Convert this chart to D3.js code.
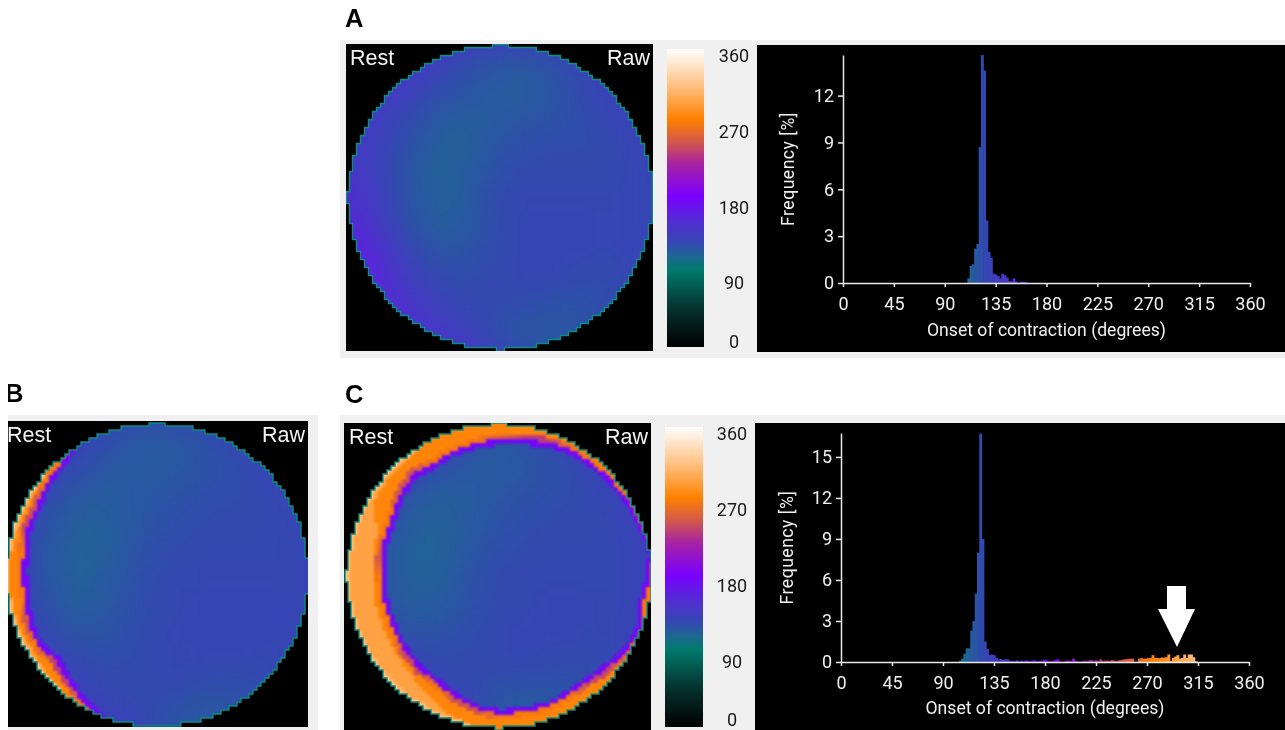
<!DOCTYPE html>
<html><head><meta charset="utf-8">
<script src="https://cdnjs.cloudflare.com/ajax/libs/d3/7.8.5/d3.min.js"></script>
<style>html,body{margin:0;padding:0;background:#fff;overflow:hidden}svg{display:block;filter:blur(0.55px)}text{font-family:Roboto,sans-serif}</style>
</head><body><svg id="c" width="1285" height="730"></svg>
<script>
// ---- colour bar
const colorStops=[0,45,93,110,125,150,182,222,246,275,315,360];
const colorValues=["#000000","#06302c","#007a6c","#1f6694","#3348b0","#4f30d0","#7a00ff","#a824a0","#d05550","#ff8000","#ffc080","#ffffff"];
const colorTicks=[0,90,180,270,360];
// ---- histograms (bin width 2 degrees)
const binWidth=2;
const xTicks=[0,45,90,135,180,225,270,315,360];
const histAStart=110;
const histA=[.3,1.1,1.2,2.2,2.5,8.7,14.6,13.6,4.0,2.0,1.6,.6,.55,.45,.3,.6,.5,.35,.12,.12,.3,.1,0,.08,.08,.06];
const yTicksA=[0,3,6,9,12];
const histCStart=104;
const histC=[.1,.25,.6,1.0,1.0,2.3,3.0,5.0,8.0,16.7,9.0,1.5,.95,.5,.55,.5,.3,.18,.22,.15,.2,.18,.1,
.08,.06,.12,.05,.1,.04,.12,.08,.04,.1,.12,.06,.05,.08,.16,.12,.06,.04,.08,.14,.2,.05,0,.04,.1,
.1,.06,.25,.05,.04,.02,.04,.1,.06,.12,.14,.05,.12,.08,.2,.06,.1,.1,.08,.14,.1,.06,.12,.14,.18,
.2,.22,.24,.24,.02,.02,.25,.28,.25,.25,.28,.3,.5,.3,.3,.28,.32,.32,.35,.55,.08,.3,.4,.5,.25,.3,.55,.3,.55,.55,.35,.05];
const yTicksC=[0,3,6,9,12,15];
// ---- polar maps: onset field, rows top to bottom
const fieldA=[
[148,148,148,148,142,138,142,138,136,136,136,136,136],
[148,148,148,142,130,122,118,118,122,130,136,136,136],
[148,148,142,130,122,118,115,115,118,124,130,136,136],
[148,142,130,122,115,115,116,118,120,123,127,133,136],
[146,138,127,118,112,114,119,122,123,123,124,128,135],
[148,138,125,116,112,116,122,124,124,124,124,127,132],
[152,142,127,116,112,118,124,126,126,126,126,127,130],
[160,148,130,118,114,118,124,127,127,127,126,127,130],
[168,158,140,124,118,120,124,127,127,127,126,128,134],
[168,160,146,132,124,123,126,127,127,124,123,128,140],
[165,160,152,140,130,125,124,122,120,119,123,135,150],
[165,160,156,148,140,130,121,117,117,120,128,140,150],
[165,165,160,156,152,146,135,125,122,130,140,150,150]];
const fieldB=[
[140,140,140,140,134,128,126,128,130,132,134,134,134],
[140,140,140,134,124,118,116,118,122,127,132,134,134],
[140,140,134,124,118,116,116,118,120,123,127,132,134],
[140,134,124,118,115,116,119,120,122,123,125,128,134],
[140,128,120,114,113,116,120,122,124,124,124,126,132],
[140,128,118,112,113,118,122,124,125,125,125,126,130],
[140,128,118,112,115,119,124,125,126,126,126,126,130],
[140,130,120,114,116,121,124,126,127,127,127,126,130],
[142,134,124,118,119,122,125,127,127,127,127,128,132],
[145,140,130,124,122,123,125,126,127,127,125,128,136],
[150,148,140,130,125,124,125,125,123,122,124,132,142],
[150,150,148,140,130,126,123,119,117,120,127,136,145],
[150,150,150,150,145,136,122,116,115,122,132,145,145]];
const fieldC=[
[145,145,145,145,145,138,130,138,140,145,145,145,145],
[145,145,145,145,138,122,116,120,126,134,145,145,145],
[145,145,145,132,120,116,116,118,120,125,132,145,145],
[145,145,128,116,114,116,118,120,122,124,127,136,145],
[145,136,120,113,113,116,120,122,124,124,125,130,145],
[145,132,116,112,113,118,122,124,125,125,125,128,140],
[145,132,116,112,114,120,124,125,125,125,125,128,140],
[145,132,118,114,116,121,124,125,127,127,125,128,140],
[145,136,122,118,120,123,125,127,127,127,125,130,145],
[145,145,134,125,123,124,125,127,125,124,124,132,148],
[145,145,145,134,126,124,122,121,120,121,127,140,150],
[145,145,145,145,138,127,116,114,116,122,136,150,150],
[145,145,145,145,145,145,130,122,130,145,145,145,145]];
// ---- late-onset wall band, sampled every 10 degrees clockwise from the top (fraction of radius)
const bandAngles=d3.range(0,360,10);
const bandInnerC=[.89,.90,.93,.95,.96,.965,.98,.99,1.02,.99,.96,.99,.97,.93,.90,.90,.91,.90,.90,.88,.84,.81,.80,.79,.78,.77,.77,.77,.78,.79,.80,.84,.87,.85,.87,.88];
const bandLightC=[1.1,1.1,1.1,1.1,1.1,1.1,1.1,1.1,1.1,1.1,1.1,1.1,1.1,1.1,1.1,1.1,1.1,1.1,1.1,1.0,.96,.90,.87,.85,.84,.83,.83,.83,.83,.84,.94,.96,.97,1.0,1.1,1.1];
const bandEdgeC=[255,235,235,270,270,270,270,270,270,270,270,270,270,240,240,270,270,270,270,245,245,270,240,240,270,270,270,270,245,270,270,245,245,270,270,270];
const bandInnerB=[1.15,1.15,1.15,1.15,1.15,1.15,1.15,1.15,1.15,1.15,1.15,1.15,1.15,1.15,1.15,1.15,1.15,1.15,1.15,1.15,1.03,.97,.91,.87,.91,.90,.885,.885,.89,.91,.91,.95,.97,1.03,1.15,1.15];
const bandLightB=[1.1,1.1,1.1,1.1,1.1,1.1,1.1,1.1,1.1,1.1,1.1,1.1,1.1,1.1,1.1,1.1,1.1,1.1,1.1,1.1,1.1,1.1,.98,.97,.96,.97,.97,.98,.97,.96,.97,.98,1.1,1.1,1.1,1.1];
const bandEdgeB=[270,270,270,270,270,270,270,270,270,270,270,270,270,270,270,270,270,270,270,270,270,270,235,235,270,245,270,270,270,240,245,270,270,270,270,270];
// ---- text
const labelMapLeft="Rest", labelMapRight="Raw";
const labelX="Onset of contraction (degrees)", labelY="Frequency [%]";

const color=d3.scaleLinear().domain(colorStops).range(colorValues).clamp(true);
const svg=d3.select("#c");
const defs=svg.append("defs");
const fb=defs.append("filter").attr("id","soft").attr("x",-.2).attr("y",-.2).attr("width",1.4).attr("height",1.4).attr("color-interpolation-filters","sRGB");
fb.append("feGaussianBlur").attr("stdDeviation",13);
const fb2=defs.append("filter").attr("id","cellblur").attr("color-interpolation-filters","sRGB");
fb2.append("feGaussianBlur").attr("stdDeviation",1);
const grad=defs.append("linearGradient").attr("id","cbar").attr("x1",0).attr("y1",1).attr("x2",0).attr("y2",0);
colorStops.forEach((s,i)=>grad.append("stop").attr("offset",s/360).attr("stop-color",colorValues[i]));

function rect(g,x,y,w,h,f){return g.append("rect").attr("x",x).attr("y",y).attr("width",w).attr("height",h).attr("fill",f);}

function steppedOutline(r){
  const s=4, pts=[], hw=y=>Math.max(s,Math.round(Math.sqrt(Math.max(0,(r-1)*(r-1)-y*y))/s)*s);
  const rows=d3.range(-r+3,r-1,s);
  pts.push([-8,-r],[8,-r],[8,-r+3]);
  rows.forEach(y=>{const w=Math.min(hw(y+s/2),r);pts.push([w,y],[w,y+s]);});
  rows.slice().reverse().forEach(y=>{const w=Math.min(hw(y+s/2),r-2);
    if(Math.abs(y+s/2)<8){pts.push([-r-1,y+s],[-r-1,y]);}else pts.push([-w,y+s],[-w,y]);});
  pts.push([-8,-r+3]);
  return d3.line()(pts)+"Z";
}

function polarMap(id,box,cx,cy,r,field,band,lab){
  const g=svg.append("g");
  defs.append("clipPath").attr("id","box"+id).append("rect").attr("x",box[0]).attr("y",box[1]).attr("width",box[2]).attr("height",box[3]);
  const root=g.append("g").attr("clip-path",`url(#box${id})`);
  rect(root,box[0],box[1],box[2],box[3],"#000");
  const outline=steppedOutline(r);
  defs.append("clipPath").attr("id","disc"+id).append("path").attr("d",outline).attr("transform",`translate(${cx},${cy})`);
  const disc=root.append("g").attr("clip-path",`url(#disc${id})`);
  const cell=27;
  const col=d3.scaleLinear().domain([0,12]).range([cx-6.5*cell,cx+5.5*cell]);
  const row=d3.scaleLinear().domain([0,12]).range([cy-6.5*cell,cy+5.5*cell]);
  const f=disc.append("g").attr("filter","url(#soft)");
  field.forEach((vals,j)=>f.selectAll(null).data(vals).join("rect")
    .attr("x",(d,i)=>col(i)).attr("y",row(j)).attr("width",cell+.5).attr("height",cell+.5)
    .attr("fill",d=>color(d)));
  if(band){
    const dom=bandAngles.concat([360]);
    const inner=d3.scaleLinear().domain(dom).range(band.inner.concat(band.inner[0]));
    const light=d3.scaleLinear().domain(dom).range(band.light.concat(band.light[0]));
    const edge=d3.scaleLinear().domain(dom).range(band.edge.concat(band.edge[0]));
    const s=4, cells=[];
    d3.range(-r-4,r+4,s).forEach(dy=>d3.range(-r-4,r+4,s).forEach(dx=>{
      const px=dx+s/2, py=dy+s/2, fr=Math.hypot(px,py)/r;
      let a=Math.atan2(px,-py)*180/Math.PI; if(a<0)a+=360;
      const I=inner(a), L=light(a);
      let v=null;
      if(fr>=L) v=fr>=.975?312:296;
      else if(fr>=I+.035) v=278;
      else if(fr>=I) v=edge(a);
      else if(fr>=I-.03) v=178;
      if(v!==null) cells.push({dx,dy,v});
    }));
    disc.append("g").attr("filter","url(#cellblur)").selectAll("rect").data(cells).join("rect")
      .attr("x",d=>cx+d.dx).attr("y",d=>cy+d.dy).attr("width",s+.4).attr("height",s+.4)
      .attr("fill",d=>color(d.v));
  }
  root.append("path").attr("d",outline).attr("transform",`translate(${cx},${cy})`)
    .attr("fill","none").attr("stroke","#0b8c84").attr("stroke-width",1.4);
  root.append("text").text(labelMapLeft).attr("x",lab[0]).attr("y",lab[2]).attr("fill","#f4f4f4")
    .style("font-family","'Liberation Sans',Arial,sans-serif").style("font-size","21.5px");
  root.append("text").text(labelMapRight).attr("x",lab[1]).attr("y",lab[2]).attr("text-anchor","end").attr("fill","#f4f4f4")
    .style("font-family","'Liberation Sans',Arial,sans-serif").style("font-size","21.5px");
}

function colorBar(x,y0,y1,w,labelX0,lab){
  const g=svg.append("g");
  rect(g,x,y0,w,y1-y0,"url(#cbar)");
  const ly=d3.scaleLinear().domain([0,90,360]).range(lab);
  g.selectAll("text").data(colorTicks).join("text").text(d=>d)
    .attr("x",labelX0).attr("y",d=>ly(d)).attr("dy",".36em").attr("text-anchor","middle").attr("fill","#1a1a1a").style("font-size","18px");
}

function hist(box,x0,x1,y0,yTop,yMax,ticks,start,vals,xLabY,yLabX){
  rect(svg,box[0],box[1],box[2],box[3],"#000");
  const x=d3.scaleLinear().domain([0,360]).range([x0,x1]);
  const y=d3.scaleLinear().domain([0,yMax]).range([y0,yTop]);
  const g=svg.append("g");
  g.selectAll("rect").data(vals).join("rect")
    .attr("x",(d,i)=>x(start+i*binWidth)).attr("width",x(binWidth)-x(0)+.6)
    .attr("y",d=>y(d)).attr("height",d=>y0-y(d))
    .attr("fill",(d,i)=>color(start+i*binWidth+1));
  const ax=svg.append("g").attr("transform",`translate(0,${y0})`).call(d3.axisBottom(x).tickValues(xTicks).tickSize(4).tickPadding(10).tickSizeOuter(0));
  const ay=svg.append("g").attr("transform",`translate(${x0},0)`).call(d3.axisLeft(y).tickValues(ticks).tickSize(5).tickPadding(4).tickSizeOuter(0));
  [ax,ay].forEach(a=>{a.selectAll("line,path").attr("stroke","#e8e8e8").attr("stroke-width",1.5);
    a.selectAll("text").attr("fill","#f0f0f0").style("font-size","18px").style("font-family","Roboto,sans-serif");});
  svg.append("text").text(labelX).attr("x",(x0+x1)/2).attr("y",xLabY).attr("text-anchor","middle").attr("fill","#f0f0f0").style("font-size","17.6px");
  svg.append("text").text(labelY).attr("transform",`translate(${yLabX},${(y0+yTop)/2})rotate(-90)`).attr("text-anchor","middle").attr("fill","#f0f0f0").style("font-size","17.6px").style("letter-spacing",".5px");
}
function letter(t,x,y,p){(p||svg).append("text").text(t).attr("x",x).attr("y",y).attr("fill","#000").style("font-family","'Liberation Sans',Arial,sans-serif").style("font-weight","700").style("font-size","25.5px");}

// white page + panel backgrounds
rect(svg,0,0,1285,730,"#fff");
rect(svg,340,40,945,318,"#f0f0f0");
rect(svg,8,415,310,315,"#f0f0f0");
rect(svg,340,415,945,315,"#f0f0f0");

letter("A",345,27); letter("C",345,403);
defs.append("clipPath").attr("id","bclip").append("rect").attr("x",8).attr("y",380).attr("width",30).attr("height",30);
letter("B",5,402,svg.append("g").attr("clip-path","url(#bclip)"));

polarMap("A",[346,44,307,307],500.5,197.5,153,fieldA,null,[350,650,65]);
polarMap("B",[8,421,300,306],157,575,152,fieldB,{inner:bandInnerB,light:bandLightB,edge:bandEdgeB},[7,305,442]);
polarMap("C",[344,423,307,307],499,576,153,fieldC,{inner:bandInnerC,light:bandLightC,edge:bandEdgeC},[349,648,444]);

colorBar(667,49,347,37,734,[342,283,56]);
colorBar(665,427,727,38,732,[720,662,434]);

hist([757,45,528,307],843,1250,283,55,14.6,yTicksA,histAStart,histA,336,794);
hist([755,423,530,307],841,1249,662,433,16.75,yTicksC,histCStart,histC,714,793);

// arrow annotation in panel C
const arrowShape=[[-10,-61],[9,-61],[9,-38],[18,-38],[0,0],[-19,-38],[-10,-38]];
svg.append("path").attr("d",d3.line()(arrowShape)+"Z").attr("transform","translate(1177,647)").attr("fill","#fff");
</script></body></html>
